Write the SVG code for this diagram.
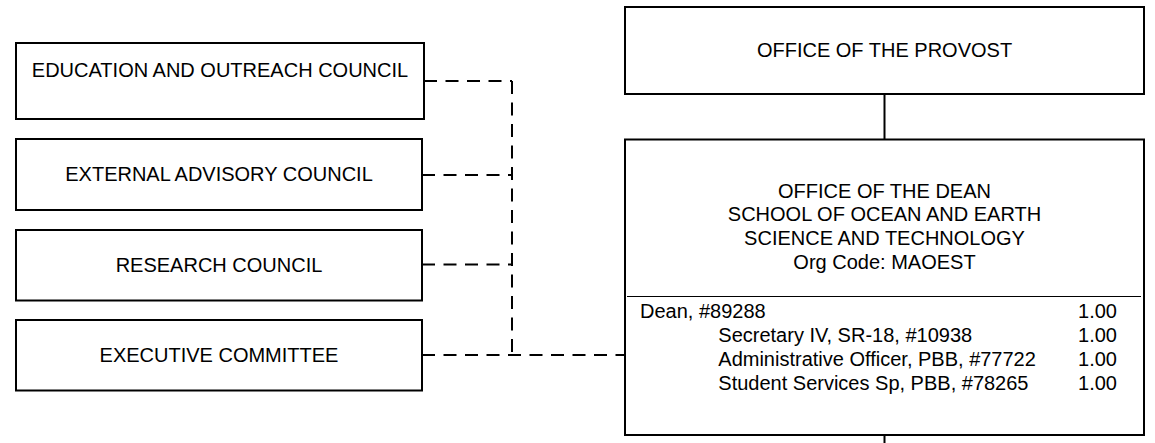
<svg xmlns="http://www.w3.org/2000/svg" width="1155" height="443" viewBox="0 0 1155 443">
<style>
  .box { fill: #ffffff; stroke: #000000; stroke-width: 2; }
  .t { font-family: "Liberation Sans", Arial, sans-serif; font-size: 20px; fill: #000000; }
  .c { text-anchor: middle; }
  .r { text-anchor: end; }
  .dash { fill: none; stroke: #000000; stroke-width: 2; stroke-dasharray: 13 8.5; }
  .solid { fill: none; stroke: #000000; stroke-width: 2; }
  .div { stroke: #000000; stroke-width: 1; }
</style>
<rect x="0" y="0" width="1155" height="443" fill="#ffffff"/>
<g id="connectors">
  <line class="dash" x1="424" y1="81" x2="512" y2="81"/>
  <line class="dash" x1="422" y1="175" x2="512" y2="175"/>
  <line class="dash" x1="422" y1="264.5" x2="512" y2="264.5"/>
  <line class="dash" x1="422" y1="355" x2="625" y2="355"/>
  <line class="dash" x1="512" y1="81" x2="512" y2="355"/>
  <line class="solid" x1="884.5" y1="94" x2="884.5" y2="139.5"/>
  <line class="solid" x1="884.5" y1="435" x2="884.5" y2="443"/>
</g>
<g id="education-outreach">
  <rect class="box" x="16" y="43" width="408" height="76"/>
  <text class="t c" x="220" y="76.7">EDUCATION AND OUTREACH COUNCIL</text>
</g>
<g id="external-advisory">
  <rect class="box" x="16" y="139" width="406" height="71"/>
  <text class="t c" x="219" y="181">EXTERNAL ADVISORY COUNCIL</text>
</g>
<g id="research-council">
  <rect class="box" x="16" y="230" width="406" height="70.5"/>
  <text class="t c" x="219" y="271.7">RESEARCH COUNCIL</text>
</g>
<g id="executive-committee">
  <rect class="box" x="16" y="320" width="406" height="70.5"/>
  <text class="t c" x="219" y="361.7">EXECUTIVE COMMITTEE</text>
</g>
<g id="provost">
  <rect class="box" x="625" y="7" width="519" height="87"/>
  <text class="t c" x="884.5" y="56.7">OFFICE OF THE PROVOST</text>
</g>
<g id="dean">
  <rect class="box" x="625" y="139.5" width="519" height="295.5"/>
  <text class="t c" x="884.5" y="197.7">OFFICE OF THE DEAN</text>
  <text class="t c" x="884.5" y="221.3">SCHOOL OF OCEAN AND EARTH</text>
  <text class="t c" x="884.5" y="245">SCIENCE AND TECHNOLOGY</text>
  <text class="t c" x="884.5" y="268.6">Org Code: MAOEST</text>
  <line class="div" x1="627" y1="296.5" x2="1141" y2="296.5"/>
  <text class="t" x="640" y="317.7">Dean, #89288</text>
  <text class="t r" x="1117" y="317.7">1.00</text>
  <text class="t" x="718.3" y="342">Secretary IV, SR-18, #10938</text>
  <text class="t r" x="1117" y="342">1.00</text>
  <text class="t" x="718.3" y="366">Administrative Officer, PBB, #77722</text>
  <text class="t r" x="1117" y="366">1.00</text>
  <text class="t" x="718.3" y="390">Student Services Sp, PBB, #78265</text>
  <text class="t r" x="1117" y="390">1.00</text>
</g>
</svg>
